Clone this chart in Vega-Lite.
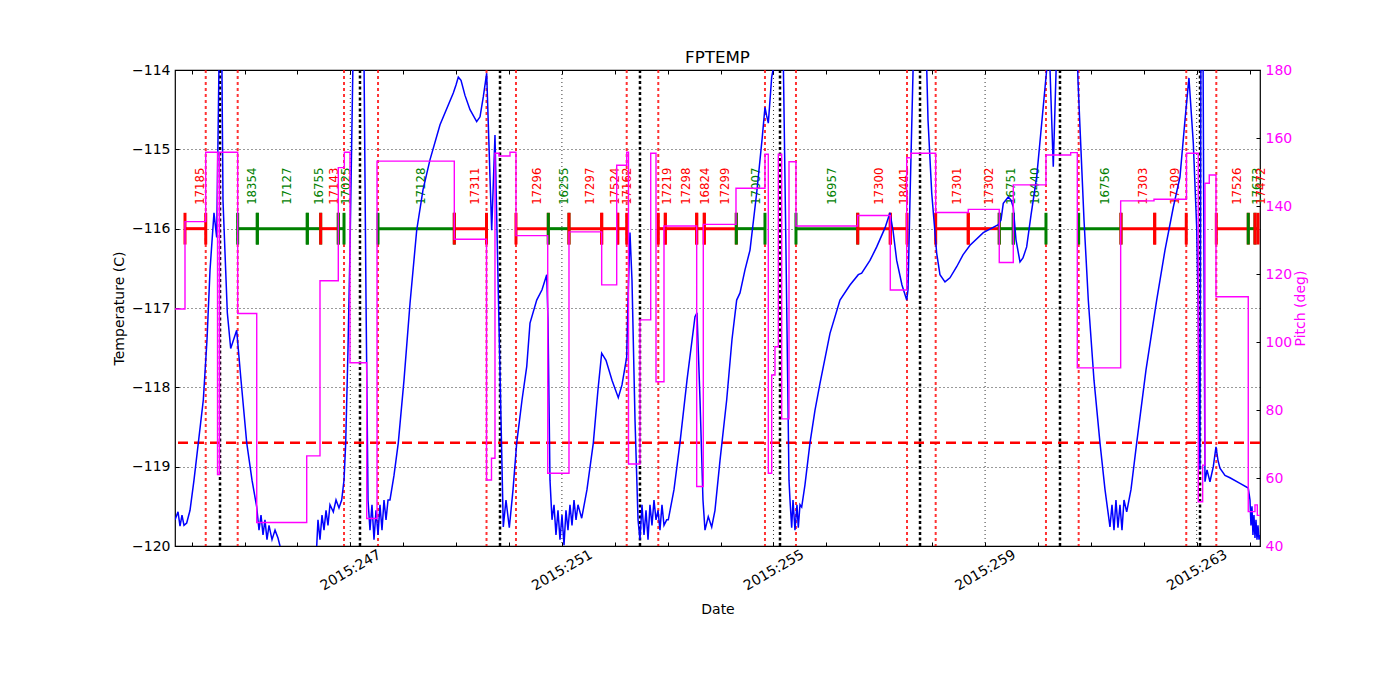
{
  "$schema": "https://vega.github.io/schema/vega-lite/v6.json",
  "width": 1085,
  "height": 476,
  "autosize": {"type": "none"},
  "padding": {"left": 175, "top": 70, "right": 140, "bottom": 154},
  "config": {
    "font": "DejaVu Sans",
    "view": {"stroke": "#000000", "strokeWidth": 1.2},
    "axis": {
      "labelFont": "DejaVu Sans", "titleFont": "DejaVu Sans",
      "labelFontSize": 14, "titleFontSize": 14, "titleFontWeight": "normal",
      "labelColor": "#000000", "titleColor": "#000000", "tickColor": "#000000",
      "domain": false, "grid": false, "tickSize": -4, "tickWidth": 1,
      "labelFlush": false, "labelOverlap": false
    }
  },
  "title": {"text": "FPTEMP", "fontSize": 16.7, "fontWeight": "normal", "font": "DejaVu Sans", "color": "#000000", "offset": -4},
  "datasets": {
    "temp": [
      {"t":243.686,"v":-119.67},{"t":243.743,"v":-119.57},{"t":243.781,"v":-119.75},{"t":243.818,"v":-119.61},{"t":243.856,"v":-119.74},{"t":243.907,"v":-119.71},{"t":243.970,"v":-119.55},{"t":244.045,"v":-119.17},{"t":244.127,"v":-118.70},{"t":244.221,"v":-118.16},{"t":244.291,"v":-117.40},{"t":244.348,"v":-116.52},{"t":244.423,"v":-115.80},{"t":244.474,"v":-116.11},{"t":244.524,"v":-113.62},{"t":244.569,"v":-113.62},{"t":244.593,"v":-115.64},{"t":244.675,"v":-117.06},{"t":244.739,"v":-117.51},{"t":244.852,"v":-117.28},{"t":244.934,"v":-117.91},{"t":245.042,"v":-118.70},{"t":245.142,"v":-119.17},{"t":245.231,"v":-119.51},{"t":245.274,"v":-119.80},{"t":245.312,"v":-119.61},{"t":245.350,"v":-119.86},{"t":245.387,"v":-119.67},{"t":245.425,"v":-119.92},{"t":245.463,"v":-119.74},{"t":245.520,"v":-119.92},{"t":245.577,"v":-119.80},{"t":245.633,"v":-119.90},{"t":245.671,"v":-120.00},{"t":245.728,"v":-120.18},{"t":246.049,"v":-120.68},{"t":246.365,"v":-120.00},{"t":246.389,"v":-119.67},{"t":246.427,"v":-119.92},{"t":246.465,"v":-119.61},{"t":246.503,"v":-119.80},{"t":246.541,"v":-119.55},{"t":246.578,"v":-119.74},{"t":246.616,"v":-119.48},{"t":246.679,"v":-119.57},{"t":246.730,"v":-119.42},{"t":246.786,"v":-119.52},{"t":246.837,"v":-119.42},{"t":246.881,"v":-119.17},{"t":246.913,"v":-118.70},{"t":246.956,"v":-117.53},{"t":246.994,"v":-116.27},{"t":247.051,"v":-113.87},{"t":247.089,"v":-113.62},{"t":247.259,"v":-113.87},{"t":247.297,"v":-116.90},{"t":247.335,"v":-119.42},{"t":247.372,"v":-119.80},{"t":247.410,"v":-119.48},{"t":247.448,"v":-119.92},{"t":247.486,"v":-119.55},{"t":247.524,"v":-119.86},{"t":247.561,"v":-119.48},{"t":247.599,"v":-119.80},{"t":247.637,"v":-119.42},{"t":247.675,"v":-119.67},{"t":247.713,"v":-119.42},{"t":247.750,"v":-119.42},{"t":247.826,"v":-119.11},{"t":247.907,"v":-118.70},{"t":248.015,"v":-117.91},{"t":248.129,"v":-116.94},{"t":248.255,"v":-116.02},{"t":248.374,"v":-115.51},{"t":248.507,"v":-115.13},{"t":248.696,"v":-114.69},{"t":248.947,"v":-114.29},{"t":248.998,"v":-114.19},{"t":249.042,"v":-114.09},{"t":249.093,"v":-114.13},{"t":249.168,"v":-114.32},{"t":249.263,"v":-114.50},{"t":249.389,"v":-114.65},{"t":249.452,"v":-114.59},{"t":249.514,"v":-114.34},{"t":249.578,"v":-114.04},{"t":249.673,"v":-116.02},{"t":249.735,"v":-114.82},{"t":249.798,"v":-116.81},{"t":249.849,"v":-118.41},{"t":249.892,"v":-119.76},{"t":249.943,"v":-119.42},{"t":250.006,"v":-119.77},{"t":250.076,"v":-119.29},{"t":250.146,"v":-118.70},{"t":250.246,"v":-118.16},{"t":250.335,"v":-117.74},{"t":250.397,"v":-117.19},{"t":250.524,"v":-116.90},{"t":250.624,"v":-116.77},{"t":250.713,"v":-116.58},{"t":250.737,"v":-117.15},{"t":250.775,"v":-119.17},{"t":250.813,"v":-119.67},{"t":250.851,"v":-119.48},{"t":250.888,"v":-119.86},{"t":250.926,"v":-119.55},{"t":250.964,"v":-119.92},{"t":251.002,"v":-119.61},{"t":251.040,"v":-119.99},{"t":251.077,"v":-119.55},{"t":251.115,"v":-119.80},{"t":251.153,"v":-119.48},{"t":251.191,"v":-119.74},{"t":251.229,"v":-119.42},{"t":251.267,"v":-119.67},{"t":251.304,"v":-119.48},{"t":251.374,"v":-119.65},{"t":251.474,"v":-119.29},{"t":251.594,"v":-118.70},{"t":251.682,"v":-118.03},{"t":251.752,"v":-117.57},{"t":251.834,"v":-117.66},{"t":251.947,"v":-117.91},{"t":252.066,"v":-118.13},{"t":252.136,"v":-117.97},{"t":252.225,"v":-117.62},{"t":252.250,"v":-116.90},{"t":252.287,"v":-116.05},{"t":252.325,"v":-116.65},{"t":252.382,"v":-118.41},{"t":252.439,"v":-119.67},{"t":252.476,"v":-119.92},{"t":252.514,"v":-119.48},{"t":252.552,"v":-119.86},{"t":252.590,"v":-119.55},{"t":252.628,"v":-119.92},{"t":252.665,"v":-119.48},{"t":252.703,"v":-119.74},{"t":252.741,"v":-119.42},{"t":252.779,"v":-119.67},{"t":252.817,"v":-119.55},{"t":252.854,"v":-119.80},{"t":252.892,"v":-119.48},{"t":252.930,"v":-119.74},{"t":252.981,"v":-119.67},{"t":253.011,"v":-119.67},{"t":253.119,"v":-119.29},{"t":253.232,"v":-118.70},{"t":253.365,"v":-117.91},{"t":253.516,"v":-117.11},{"t":253.554,"v":-117.06},{"t":253.611,"v":-118.16},{"t":253.667,"v":-119.42},{"t":253.705,"v":-119.80},{"t":253.767,"v":-119.63},{"t":253.832,"v":-119.76},{"t":253.894,"v":-119.55},{"t":253.989,"v":-118.92},{"t":254.115,"v":-118.16},{"t":254.215,"v":-117.40},{"t":254.304,"v":-116.90},{"t":254.367,"v":-116.81},{"t":254.461,"v":-116.52},{"t":254.556,"v":-116.27},{"t":254.682,"v":-115.55},{"t":254.783,"v":-114.88},{"t":254.839,"v":-114.47},{"t":254.868,"v":-114.57},{"t":254.902,"v":-114.67},{"t":254.966,"v":-114.09},{"t":255.028,"v":-113.87},{"t":255.066,"v":-113.62},{"t":255.180,"v":-113.62},{"t":255.236,"v":-116.27},{"t":255.293,"v":-119.17},{"t":255.312,"v":-119.42},{"t":255.344,"v":-119.77},{"t":255.369,"v":-119.42},{"t":255.406,"v":-119.80},{"t":255.444,"v":-119.48},{"t":255.469,"v":-119.77},{"t":255.501,"v":-119.48},{"t":255.533,"v":-119.51},{"t":255.595,"v":-119.23},{"t":255.690,"v":-118.70},{"t":255.784,"v":-118.29},{"t":255.879,"v":-117.95},{"t":256.068,"v":-117.32},{"t":256.257,"v":-116.90},{"t":256.446,"v":-116.71},{"t":256.603,"v":-116.58},{"t":256.667,"v":-116.56},{"t":256.824,"v":-116.40},{"t":256.951,"v":-116.23},{"t":257.108,"v":-115.99},{"t":257.202,"v":-115.80},{"t":257.259,"v":-116.02},{"t":257.329,"v":-116.40},{"t":257.429,"v":-116.71},{"t":257.518,"v":-116.90},{"t":257.543,"v":-116.77},{"t":257.580,"v":-115.64},{"t":257.643,"v":-113.87},{"t":257.675,"v":-113.62},{"t":257.883,"v":-113.62},{"t":257.921,"v":-114.63},{"t":257.991,"v":-115.55},{"t":258.085,"v":-116.31},{"t":258.147,"v":-116.58},{"t":258.242,"v":-116.67},{"t":258.336,"v":-116.62},{"t":258.463,"v":-116.48},{"t":258.582,"v":-116.33},{"t":258.715,"v":-116.21},{"t":258.966,"v":-116.05},{"t":259.250,"v":-115.95},{"t":259.301,"v":-115.89},{"t":259.344,"v":-115.68},{"t":259.439,"v":-115.60},{"t":259.490,"v":-115.64},{"t":259.533,"v":-115.73},{"t":259.584,"v":-116.14},{"t":259.660,"v":-116.42},{"t":259.716,"v":-116.37},{"t":259.786,"v":-116.23},{"t":259.868,"v":-115.83},{"t":259.975,"v":-115.35},{"t":260.076,"v":-114.63},{"t":260.164,"v":-114.00},{"t":260.208,"v":-113.62},{"t":260.289,"v":-115.22},{"t":260.359,"v":-113.62},{"t":260.737,"v":-113.62},{"t":260.756,"v":-114.13},{"t":260.794,"v":-114.72},{"t":260.870,"v":-115.89},{"t":260.951,"v":-116.90},{"t":261.059,"v":-117.91},{"t":261.172,"v":-118.70},{"t":261.267,"v":-119.29},{"t":261.361,"v":-119.76},{"t":261.399,"v":-119.48},{"t":261.437,"v":-119.80},{"t":261.474,"v":-119.42},{"t":261.512,"v":-119.77},{"t":261.550,"v":-119.48},{"t":261.588,"v":-119.80},{"t":261.626,"v":-119.42},{"t":261.677,"v":-119.57},{"t":261.758,"v":-119.29},{"t":261.866,"v":-118.70},{"t":262.042,"v":-117.78},{"t":262.244,"v":-116.90},{"t":262.401,"v":-116.27},{"t":262.558,"v":-115.73},{"t":262.684,"v":-115.35},{"t":262.779,"v":-114.63},{"t":262.854,"v":-114.10},{"t":262.936,"v":-114.92},{"t":263.000,"v":-115.98},{"t":263.025,"v":-116.90},{"t":263.062,"v":-119.04},{"t":263.081,"v":-113.62},{"t":263.119,"v":-113.62},{"t":263.157,"v":-119.19},{"t":263.195,"v":-119.04},{"t":263.251,"v":-119.19},{"t":263.314,"v":-119.00},{"t":263.365,"v":-118.75},{"t":263.403,"v":-118.92},{"t":263.440,"v":-119.02},{"t":263.535,"v":-119.11},{"t":263.629,"v":-119.14},{"t":263.819,"v":-119.21},{"t":263.975,"v":-119.27},{"t":264.008,"v":-119.42},{"t":264.026,"v":-119.74},{"t":264.045,"v":-119.50},{"t":264.064,"v":-119.86},{"t":264.083,"v":-119.61},{"t":264.102,"v":-119.90},{"t":264.121,"v":-119.67},{"t":264.140,"v":-119.92},{"t":264.159,"v":-119.74},{"t":264.178,"v":-119.92},{"t":264.197,"v":-119.86}
    ],
    "pitch": [
      {"t":243.686,"p":109.7},{"t":243.875,"p":135.4},{"t":244.267,"p":155.8},{"t":244.490,"p":61.0},{"t":244.527,"p":155.8},{"t":244.871,"p":108.4},{"t":245.231,"p":46.9},{"t":246.176,"p":66.5},{"t":246.427,"p":118.0},{"t":246.773,"p":151.3},{"t":246.887,"p":155.8},{"t":246.994,"p":93.9},{"t":247.310,"p":48.1},{"t":247.505,"p":153.2},{"t":248.966,"p":130.2},{"t":249.575,"p":59.4},{"t":249.669,"p":65.8},{"t":249.735,"p":155.5},{"t":249.811,"p":154.7},{"t":250.019,"p":155.8},{"t":250.132,"p":131.3},{"t":250.732,"p":61.4},{"t":251.134,"p":132.4},{"t":251.752,"p":116.8},{"t":252.036,"p":152.0},{"t":252.225,"p":155.8},{"t":252.259,"p":64.1},{"t":252.476,"p":106.5},{"t":252.679,"p":155.5},{"t":252.779,"p":88.3},{"t":252.930,"p":134.1},{"t":253.548,"p":57.5},{"t":253.673,"p":134.6},{"t":254.291,"p":145.2},{"t":254.839,"p":155.2},{"t":254.902,"p":61.4},{"t":254.966,"p":90.3},{"t":255.028,"p":98.6},{"t":255.091,"p":155.2},{"t":255.155,"p":77.4},{"t":255.293,"p":153.0},{"t":255.425,"p":134.1},{"t":256.592,"p":137.2},{"t":257.208,"p":115.3},{"t":257.518,"p":154.2},{"t":257.594,"p":155.5},{"t":258.066,"p":138.1},{"t":258.682,"p":139.0},{"t":259.268,"p":123.4},{"t":259.533,"p":146.2},{"t":260.151,"p":155.0},{"t":260.618,"p":155.7},{"t":260.743,"p":92.4},{"t":261.563,"p":141.5},{"t":262.193,"p":142.0},{"t":262.807,"p":155.5},{"t":263.030,"p":53.0},{"t":263.113,"p":63.8},{"t":263.157,"p":146.7},{"t":263.238,"p":149.1},{"t":263.365,"p":113.3},{"t":263.975,"p":50.1},{"t":264.102,"p":52.1},{"t":264.146,"p":49.0},{"t":264.197,"p":49.0}
    ],
    "segs": [
      {"obsid":"17185","start":243.875,"stop":244.267,"cat":"r"},
      {"obsid":"18354","start":244.871,"stop":245.242,"cat":"g"},
      {"obsid":"17127","start":245.242,"stop":246.187,"cat":"g"},
      {"obsid":"16755","start":246.187,"stop":246.440,"cat":"g"},
      {"obsid":"17143","start":246.440,"stop":246.773,"cat":"r"},
      {"obsid":"17025","start":246.773,"stop":246.881,"cat":"g"},
      {"obsid":"17128","start":247.524,"stop":248.966,"cat":"g"},
      {"obsid":"17311","start":248.966,"stop":249.575,"cat":"r"},
      {"obsid":"17296","start":250.132,"stop":250.743,"cat":"r"},
      {"obsid":"16255","start":250.743,"stop":251.134,"cat":"g"},
      {"obsid":"17297","start":251.134,"stop":251.752,"cat":"r"},
      {"obsid":"17524","start":251.752,"stop":252.055,"cat":"r"},
      {"obsid":"17162","start":252.055,"stop":252.225,"cat":"r"},
      {"obsid":"17219","start":252.822,"stop":252.955,"cat":"r"},
      {"obsid":"17298","start":252.955,"stop":253.548,"cat":"r"},
      {"obsid":"16824","start":253.548,"stop":253.692,"cat":"r"},
      {"obsid":"17299","start":253.692,"stop":254.297,"cat":"r"},
      {"obsid":"17007","start":254.297,"stop":254.839,"cat":"g"},
      {"obsid":"16957","start":255.425,"stop":256.592,"cat":"g"},
      {"obsid":"17300","start":256.592,"stop":257.208,"cat":"r"},
      {"obsid":"18441","start":257.208,"stop":257.524,"cat":"r"},
      {"obsid":"17301","start":258.066,"stop":258.682,"cat":"r"},
      {"obsid":"17302","start":258.682,"stop":259.268,"cat":"r"},
      {"obsid":"16751","start":259.268,"stop":259.533,"cat":"g"},
      {"obsid":"18440","start":259.533,"stop":260.151,"cat":"g"},
      {"obsid":"16756","start":260.769,"stop":261.569,"cat":"g"},
      {"obsid":"17303","start":261.569,"stop":262.206,"cat":"r"},
      {"obsid":"17309","start":262.206,"stop":262.803,"cat":"r"},
      {"obsid":"17526","start":263.371,"stop":263.975,"cat":"r"},
      {"obsid":"17673","start":263.975,"stop":264.102,"cat":"g"},
      {"obsid":"17472","start":264.102,"stop":264.159,"cat":"r"}
    ],
    "reddot": [
      {"t":244.267},{"t":244.871},{"t":246.881},{"t":247.524},{"t":249.575},{"t":250.132},{"t":252.225},{"t":252.822},{"t":254.839},{"t":255.425},{"t":257.524},{"t":258.066},{"t":260.151},{"t":260.769},{"t":262.803},{"t":263.371}
    ],
    "blackdot": [
      {"t":244.537},{"t":247.183},{"t":249.830},{"t":252.476},{"t":255.123},{"t":257.770},{"t":260.416},{"t":263.063}
    ],
    "vgrid": [{"t":247},{"t":251},{"t":255},{"t":259},{"t":263}],
    "limit": [{"v":-118.7}]
  },
  "layer": [
    {
      "data": {"name": "temp"},
      "mark": {"type": "line", "color": "#0000ff", "strokeWidth": 0, "clip": true},
      "encoding": {
        "x": {
          "field": "t", "type": "quantitative",
          "scale": {"domain": [243.686, 264.197], "nice": false, "zero": false},
          "axis": {
            "orient": "bottom",
            "values": [244,245,246,247,248,249,250,251,252,253,254,255,256,257,258,259,260,261,262,263,264],
            "labelExpr": "(datum.value - 247) % 4 == 0 ? '2015:' + datum.value : ''",
            "labelAngle": -30, "labelAlign": "center", "labelBaseline": "middle",
            "labelPadding": 28, "title": "Date", "titlePadding": 10
          }
        },
        "y": {
          "field": "v", "type": "quantitative",
          "scale": {"domain": [-120, -114], "nice": false, "zero": false},
          "axis": {
            "orient": "left",
            "values": [-120,-119,-118,-117,-116,-115,-114],
            "labelExpr": "replace(toString(datum.value), '-', '\u2212')",
            "labelPadding": 9,
            "grid": true, "gridColor": "#000000", "gridDash": [1, 3], "gridWidth": 0.8, "gridOpacity": 1,
            "title": "Temperature (C)", "titlePadding": 5
          }
        }
      }
    },
    {
      "data": {"name": "vgrid"},
      "mark": {"type": "rule", "color": "#000000", "strokeWidth": 0.8, "strokeDash": [1, 3]},
      "encoding": {
        "x": {"field": "t", "type": "quantitative", "scale": {"domain": [243.686, 264.197], "nice": false, "zero": false}, "axis": null}
      }
    },
    {
      "data": {"name": "limit"},
      "mark": {"type": "rule", "color": "#ff0000", "strokeWidth": 2.5, "strokeDash": [10, 6]},
      "encoding": {
        "y": {"field": "v", "type": "quantitative", "scale": {"domain": [-120, -114], "nice": false, "zero": false}, "axis": null}
      }
    },
    {
      "data": {"name": "reddot"},
      "mark": {"type": "rule", "color": "#ff0000", "opacity": 0.8, "strokeWidth": 2, "strokeDash": [3, 3]},
      "encoding": {
        "x": {"field": "t", "type": "quantitative", "scale": {"domain": [243.686, 264.197], "nice": false, "zero": false}, "axis": null}
      }
    },
    {
      "data": {"name": "blackdot"},
      "mark": {"type": "rule", "color": "#000000", "strokeWidth": 2.5, "strokeDash": [3, 2.5]},
      "encoding": {
        "x": {"field": "t", "type": "quantitative", "scale": {"domain": [243.686, 264.197], "nice": false, "zero": false}, "axis": null}
      }
    },
    {
      "data": {"name": "segs"},
      "mark": {"type": "rule", "strokeWidth": 3},
      "encoding": {
        "x": {"field": "start", "type": "quantitative", "scale": {"domain": [243.686, 264.197], "nice": false, "zero": false}, "axis": null},
        "x2": {"field": "stop"},
        "y": {"datum": -116, "type": "quantitative", "scale": {"domain": [-120, -114], "nice": false, "zero": false}, "axis": null},
        "color": {"field": "cat", "type": "nominal", "scale": {"domain": ["r", "g"], "range": ["#ff0000", "#008000"]}, "legend": null}
      }
    },
    {
      "data": {"name": "segs"},
      "transform": [{"fold": ["start", "stop"], "as": ["edge", "tt"]}],
      "mark": {"type": "rule", "strokeWidth": 3},
      "encoding": {
        "x": {"field": "tt", "type": "quantitative", "scale": {"domain": [243.686, 264.197], "nice": false, "zero": false}, "axis": null},
        "y": {"datum": -115.8, "type": "quantitative", "scale": {"domain": [-120, -114], "nice": false, "zero": false}, "axis": null},
        "y2": {"datum": -116.2},
        "color": {"field": "cat", "type": "nominal", "scale": {"domain": ["r", "g"], "range": ["#ff0000", "#008000"]}, "legend": null}
      }
    },
    {
      "data": {"name": "segs"},
      "transform": [{"calculate": "(datum.start + datum.stop) / 2", "as": "mid"}],
      "mark": {"type": "text", "angle": 270, "align": "left", "baseline": "top", "fontSize": 11.7, "font": "DejaVu Sans"},
      "encoding": {
        "x": {"field": "mid", "type": "quantitative", "scale": {"domain": [243.686, 264.197], "nice": false, "zero": false}, "axis": null},
        "y": {"datum": -115.7, "type": "quantitative", "scale": {"domain": [-120, -114], "nice": false, "zero": false}, "axis": null},
        "text": {"field": "obsid"},
        "color": {"field": "cat", "type": "nominal", "scale": {"domain": ["r", "g"], "range": ["#ff0000", "#008000"]}, "legend": null}
      }
    },
    {
      "data": {"name": "temp"},
      "mark": {"type": "line", "color": "#0000ff", "strokeWidth": 1.5, "clip": true},
      "encoding": {
        "x": {"field": "t", "type": "quantitative", "scale": {"domain": [243.686, 264.197], "nice": false, "zero": false}, "axis": null},
        "y": {"field": "v", "type": "quantitative", "scale": {"domain": [-120, -114], "nice": false, "zero": false}, "axis": null}
      }
    },
    {
      "data": {"name": "pitch"},
      "mark": {"type": "line", "color": "#ff00ff", "strokeWidth": 1.4, "interpolate": "step-after", "clip": true},
      "encoding": {
        "x": {
          "field": "t", "type": "quantitative",
          "scale": {"domain": [243.686, 264.197], "nice": false, "zero": false},
          "axis": {"orient": "top", "values": [244,245,246,247,248,249,250,251,252,253,254,255,256,257,258,259,260,261,262,263,264], "labels": false, "title": null}
        },
        "y": {
          "field": "p", "type": "quantitative",
          "scale": {"domain": [40, 180], "nice": false, "zero": false},
          "axis": {
            "orient": "right",
            "values": [40,60,80,100,120,140,160,180],
            "labelColor": "#ff00ff", "labelPadding": 9,
            "title": "Pitch (deg)", "titleColor": "#ff00ff", "titleAngle": 270, "titleBaseline": "top", "titlePadding": 2
          }
        }
      }
    }
  ],
  "resolve": {"scale": {"y": "independent"}, "axis": {"x": "independent"}}
}
